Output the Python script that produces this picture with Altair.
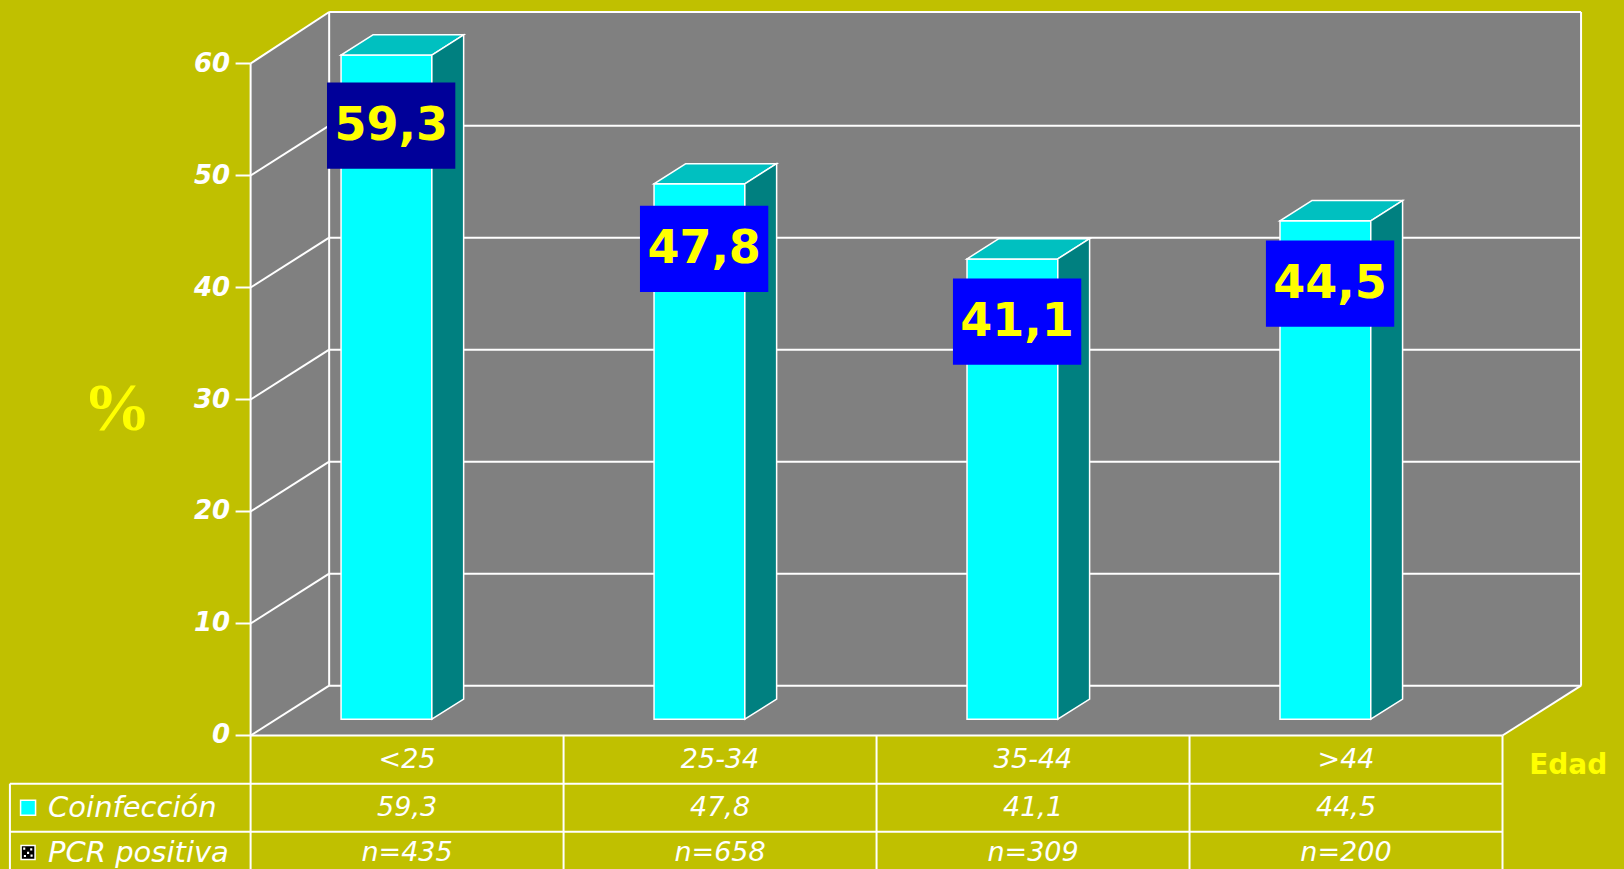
import altair as alt
import pandas as pd

# ---------------- data ----------------
categories = ["<25", "25-34", "35-44", ">44"]
coinfeccion = [59.3, 47.8, 41.1, 44.5]
coinf_labels = ["59,3", "47,8", "41,1", "44,5"]
pcr_n = ["n=435", "n=658", "n=309", "n=200"]
y_ticks = [0, 10, 20, 30, 40, 50, 60]
legend_rows = ["Coinfección", "PCR positiva"]
label_box_colors = ["#000099", "#0000FF", "#0000FF", "#0000FF"]
label_drop = [6.3, 5.8, 5.6, 5.6]   # style: how far below bar top the label box sits

# ---------------- geometry (style) ----------------
DX, DY = 0.251, 4.45          # full-depth oblique offset (x units, value units)
D1, D2 = 0.327, 0.732         # bar front / back depth fraction
BAR_L, BAR_R = 0.207, 0.497   # bar extent inside category slot
ROW_H = 4.3                   # table row height in value units
LEG_X = -0.769                # left border of legend column
TICK = 0.048
Y_TOP = 60
N = len(categories)
X_MIN, X_MAX = -0.8007, 4.3882
Y_MIN, Y_MAX = -11.92, 65.67

BG = "#C0C000"
GRAY = "#808080"
WHITE = "#FFFFFF"
YELLOW = "#FFFF00"
FONT = "DejaVu Sans"

xs = alt.Scale(domain=[X_MIN, X_MAX], nice=False, zero=False)
ys = alt.Scale(domain=[Y_MIN, Y_MAX], nice=False, zero=False)


def X(f="x"):
    return alt.X(f"{f}:Q", scale=xs, axis=None)


def Y(f="y"):
    return alt.Y(f"{f}:Q", scale=ys, axis=None, stack=False)


def X2(f="x2"):
    return alt.X2(f"{f}:Q")


def Y2(f="y2"):
    return alt.Y2(f"{f}:Q")


# back wall
back = alt.Chart(pd.DataFrame([{"x": DX, "x2": N + DX, "y": DY, "y2": Y_TOP + DY + 0.15}])).mark_rect(
    color=GRAY).encode(x=X(), x2=X2(), y=Y(), y2=Y2())

# left wall (vertical area)
left = alt.Chart(pd.DataFrame([
    {"x": 0, "y": 0, "y2": Y_TOP},
    {"x": DX, "y": DY, "y2": Y_TOP + DY + 0.15},
])).mark_area(color=GRAY, orient="vertical").encode(x=X(), y=Y(), y2=Y2())

# floor (horizontal area)
floor = alt.Chart(pd.DataFrame([
    {"y": 0, "x": 0, "x2": N},
    {"y": DY, "x": DX, "x2": N + DX},
])).mark_area(color=GRAY, orient="horizontal").encode(y=Y(), x=X(), x2=X2())

# line segments
segs = []
for v in y_ticks:
    top_fix = 0.15 if v == Y_TOP else 0.0
    segs.append((DX, v + DY + top_fix, N + DX, v + DY + top_fix))   # back wall grid
    segs.append((0, v, DX, v + DY + top_fix))                       # left wall diagonal
    segs.append((-TICK, v, 0, v))                                   # tick mark
segs.append((DX, DY, DX, Y_TOP + DY + 0.15))
segs.append((N + DX, DY, N + DX, Y_TOP + DY + 0.15))
segs.append((N, 0, N + DX, DY))
segs.append((0, Y_MIN, 0, Y_TOP))
segs.append((0, 0, N, 0))
segs.append((LEG_X, -ROW_H, N, -ROW_H))
segs.append((LEG_X, -2 * ROW_H, N, -2 * ROW_H))
for i in range(1, N + 1):
    segs.append((i, 0, i, Y_MIN))
segs.append((LEG_X, -ROW_H, LEG_X, Y_MIN))
seg_df = pd.DataFrame(segs, columns=["x", "y", "x2", "y2"])
lines = alt.Chart(seg_df).mark_rule(color=WHITE, strokeWidth=2).encode(
    x=X(), y=Y(), x2=X2(), y2=Y2())

# bars
front_rows, top_rows, side_rows, box_rows = [], [], [], []
for i, (c, v) in enumerate(zip(categories, coinfeccion)):
    l1 = i + BAR_L + D1 * DX
    r1 = i + BAR_R + D1 * DX
    b1 = D1 * DY
    sh_x = (D2 - D1) * DX
    sh_y = (D2 - D1) * DY
    front_rows.append({"x": l1, "x2": r1, "y": b1, "y2": v + b1, "bar": c})
    top_rows.append({"bar": c, "y": v + b1, "x": l1, "x2": r1})
    top_rows.append({"bar": c, "y": v + b1 + sh_y, "x": l1 + sh_x, "x2": r1 + sh_x})
    side_rows.append({"bar": c, "x": r1, "y": b1, "y2": v + b1})
    side_rows.append({"bar": c, "x": r1 + sh_x, "y": b1 + sh_y, "y2": v + b1 + sh_y})
    cx = (l1 + r1) / 2 + 0.015
    cy = v + b1 - label_drop[i]
    box_rows.append({"x": cx - 0.205, "x2": cx + 0.205, "y": cy - 3.85, "y2": cy + 3.85,
                     "cx": cx, "cy": cy, "label": coinf_labels[i], "fill": label_box_colors[i]})

front = alt.Chart(pd.DataFrame(front_rows)).mark_rect(
    color="#00FFFF", stroke=WHITE, strokeWidth=1.5).encode(x=X(), x2=X2(), y=Y(), y2=Y2())
top = alt.Chart(pd.DataFrame(top_rows)).mark_area(
    color="#00C0C0", stroke=WHITE, strokeWidth=1.5, orient="horizontal").encode(
    y=Y(), x=X(), x2=X2(), detail="bar:N")
side = alt.Chart(pd.DataFrame(side_rows)).mark_area(
    color="#008080", stroke=WHITE, strokeWidth=1.5, orient="vertical").encode(
    x=X(), y=Y(), y2=Y2(), detail="bar:N")

box_df = pd.DataFrame(box_rows)
boxes = alt.Chart(box_df).mark_rect().encode(
    x=X(), x2=X2(), y=Y(), y2=Y2(), fill=alt.Fill("fill:N", scale=None))
box_text = alt.Chart(box_df).mark_text(
    font=FONT, fontSize=46, fontWeight="bold", color=YELLOW, baseline="middle", align="center").encode(
    x=X("cx"), y=Y("cy"), text="label:N")

# y tick labels
tick_df = pd.DataFrame({"x": [-0.0655] * len(y_ticks), "y": y_ticks, "t": [str(t) for t in y_ticks]})
tick_text = alt.Chart(tick_df).mark_text(
    font=FONT, fontSize=26, fontWeight="bold", fontStyle="italic", color=WHITE,
    align="right", baseline="middle").encode(x=X(), y=Y(), text="t:N")

# table texts
cells = []
for i in range(N):
    cells.append({"x": i + 0.5, "y": -0.5 * ROW_H, "t": categories[i]})
    cells.append({"x": i + 0.5, "y": -1.5 * ROW_H, "t": coinf_labels[i]})
    cells.append({"x": i + 0.5, "y": -2.43 * ROW_H, "t": pcr_n[i]})
cell_text = alt.Chart(pd.DataFrame(cells)).mark_text(
    font=FONT, fontSize=27, fontStyle="italic", color=WHITE, align="center", baseline="middle").encode(
    x=X(), y=Y(), text="t:N")

leg_df = pd.DataFrame({"x": [-0.647, -0.647], "y": [-1.5 * ROW_H, -2.43 * ROW_H], "t": legend_rows})
leg_text = alt.Chart(leg_df).mark_text(
    font=FONT, fontSize=29, fontStyle="italic", color=WHITE, align="left", baseline="middle").encode(
    x=X(), y=Y(), text="t:N")

mk1 = alt.Chart(pd.DataFrame({"x": [-0.711], "y": [-1.5 * ROW_H]})).mark_square(
    size=225, fill="#00FFFF", stroke=WHITE, strokeWidth=1.5, opacity=1).encode(x=X(), y=Y())
mk2 = alt.Chart(pd.DataFrame({"x": [-0.711], "y": [-2.43 * ROW_H]})).mark_square(
    size=196, fill="#000000", stroke=WHITE, strokeWidth=1.5, opacity=1).encode(x=X(), y=Y())
mk2dots = alt.Chart(pd.DataFrame({"x": [-0.711], "y": [-2.43 * ROW_H]})).mark_point(
    shape="M-0.7,-0.7h0.3v0.3h-0.3z M0.3,-0.6h0.3v0.3h-0.3z M-0.15,-0.1h0.3v0.3h-0.3z M-0.6,0.35h0.3v0.3h-0.3z M0.35,0.3h0.3v0.3h-0.3z",
    size=196, filled=True, fill=WHITE, opacity=1, strokeWidth=0).encode(x=X(), y=Y())

pct = alt.Chart(pd.DataFrame({"x": [-0.427], "y": [29.1], "t": ["%"]})).mark_text(
    font="Liberation Serif", fontSize=68, fontWeight="bold", color=YELLOW,
    align="center", baseline="middle").encode(x=X(), y=Y(), text="t:N")
edad = alt.Chart(pd.DataFrame({"x": [4.21], "y": [-0.5 * ROW_H - 0.6], "t": ["Edad"]})).mark_text(
    font=FONT, fontSize=28, fontWeight="bold", color=YELLOW,
    align="center", baseline="middle").encode(x=X(), y=Y(), text="t:N")

chart = alt.layer(
    back, left, floor, lines, front, top, side, boxes, box_text,
    tick_text, cell_text, leg_text, mk1, mk2, mk2dots, pct, edad
).properties(
    width=1624, height=869, padding=0, background=BG,
    autosize=alt.AutoSizeParams(type="none")
).configure_view(stroke=None)

chart.save("out.html", embed_options={"renderer": "svg", "actions": False})
